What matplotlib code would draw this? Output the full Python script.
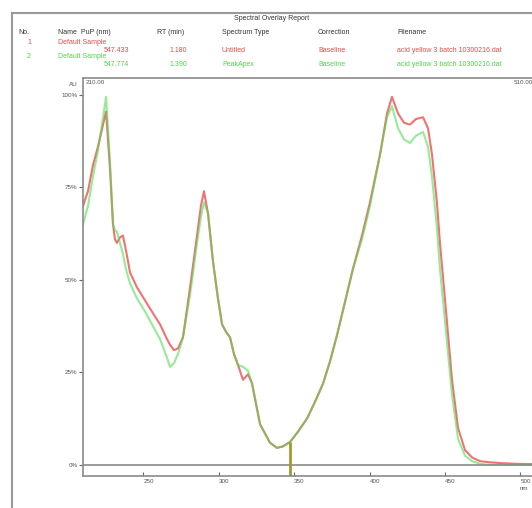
import matplotlib.pyplot as plt
from matplotlib.lines import Line2D

wavelength = [210.0, 213.3, 216.6, 219.9, 223.3, 225.3, 227.9, 229.9, 231.2, 232.5,
              234.5, 236.5, 238.5, 241.2, 245.8, 251.1, 256.4, 261.1, 265.7, 267.7,
              270.3, 273.0, 276.3, 281.0, 285.6, 288.2, 290.2, 292.9, 296.2, 299.5,
              302.2, 304.8, 307.5, 310.1, 312.8, 316.1, 319.4, 322.1, 327.4, 334.0,
              338.6, 342.6, 347.3, 352.6, 358.5, 363.8, 369.2, 373.8, 378.4, 383.7,
              389.0, 395.0, 400.3, 407.0, 411.6, 414.9, 418.9, 422.9, 426.8, 430.8,
              435.5, 438.8, 441.4, 444.7, 446.7, 450.0, 454.7, 458.7, 463.3, 468.0,
              473.3, 479.9, 486.5, 496.5, 510.0]
sample1 = [70, 74, 81, 86, 92, 95.5, 80, 65, 61, 60,
           61.5, 62, 58, 52, 48, 44.5, 41, 38, 34, 32.5,
           31, 31.5, 34.5, 48, 62, 70, 74, 68, 55, 45,
           38, 36, 34.5, 30, 27, 23, 24.5, 22, 11, 6,
           4.6, 5, 6.2, 9, 12.5, 17, 22, 28, 35, 44,
           53, 62, 71, 84, 95, 99.5, 95, 92.5, 92, 93.5,
           94, 91, 84, 71, 60, 45, 23, 10, 4, 2,
           1, 0.7, 0.5, 0.3, 0.2]
sample2 = [65, 70, 78, 85, 94, 99.5, 82, 65, 63.5, 63,
           60, 57, 53, 49, 45, 41.5, 37.5, 34, 29, 26.5,
           27.5, 30, 34.5, 46, 60, 67, 71, 68, 55, 45,
           38, 36, 34.5, 30, 27, 26.5, 25.5, 22, 11, 6,
           4.6, 5, 6.2, 9, 12.5, 17, 22, 28, 35, 44,
           53, 61, 70, 84, 94, 97, 91, 88, 87, 89,
           90, 86, 78, 64, 53, 39, 19, 7, 2.5, 1,
           0.3, 0, 0, 0, 0]

marker_nm = 347.3
marker_top = 6.2

x_ticks = [250, 300, 350, 400, 450, 500]
y_ticks = [0, 25, 50, 75, 100]
y_labels = ["0%", "25%", "50%", "75%", "100%"]

columns = ["No.", "Name  PuP (nm)", "RT (min)", "Spectrum Type", "Correction", "Filename"]
rows = [
    ["1", "Default Sample", "547.433", "1.180", "Untitled", "Baseline",
     "acid yellow 3 batch 10300216.dat"],
    ["2", "Default Sample", "547.774", "1.390", "PeakApex", "Baseline",
     "acid yellow 3 batch 10300216.dat"],
]
row_colors = ["#e84a4a", "#4cd64c"]

W, H = 532, 508
plt.rcParams["font.family"] = ["Liberation Sans", "DejaVu Sans"]
fig = plt.figure(figsize=(W / 100, H / 100), dpi=100)


def fx(px):
    return px / W


def fy(py):
    return 1 - py / H


# outer report frame
frame = "#9a9a9a"
fig.add_artist(Line2D([fx(12), 1.0], [fy(13), fy(13)], color=frame, lw=1.5))
fig.add_artist(Line2D([fx(12), fx(12)], [fy(13), 0.0], color=frame, lw=1.5))

# header block
fig.text(fx(272), fy(18), "Spectral Overlay Report", fontsize=5, color="#333333",
         ha="center", va="center")
col_x = [18, 58, 157, 222, 318, 397]
for x, name in zip(col_x, columns):
    fig.text(fx(x), fy(33), name, fontsize=5, color="#333333", va="center")

for i, (row, c) in enumerate(zip(rows, row_colors)):
    y1 = 42 + i * 15
    y2 = y1 + 8
    fig.text(fx(27), fy(y1), row[0], fontsize=5, color=c, va="center")
    fig.text(fx(58), fy(y1), row[1], fontsize=5, color=c, va="center")
    fig.text(fx(129), fy(y2), row[2], fontsize=5, color=c, va="center", ha="right")
    fig.text(fx(187), fy(y2), row[3], fontsize=5, color=c, va="center", ha="right")
    fig.text(fx(222), fy(y2), row[4], fontsize=5, color=c, va="center")
    fig.text(fx(318), fy(y2), row[5], fontsize=5, color=c, va="center")
    fig.text(fx(397), fy(y2), row[6], fontsize=5, color=c, va="center")

# plot area: left 83px, top 78px, bottom axis 476px
x_lo, x_hi = 210, 510
y_lo, y_hi = -3.0, 104.6
px_per_nm = 1.508
left, top, bottom = 83, 78, 476
right = left + (x_hi - x_lo) * px_per_nm
ax = fig.add_axes([fx(left), fy(bottom), fx(right - left), (bottom - top) / H])

ax.plot(wavelength, sample1, color="#f07272", lw=1.5)
ax.plot(wavelength, sample2, color="#52dc52", lw=1.5, alpha=0.6)
ax.axhline(0, color="#8a8a8a", lw=1.2)
ax.vlines(marker_nm, y_lo, marker_top, color="#a09a30", lw=2)

ax.set_xlim(x_lo, x_hi)
ax.set_ylim(y_lo, y_hi)
for side in ["left", "top", "bottom", "right"]:
    ax.spines[side].set_color("#8a8a8a")
    ax.spines[side].set_linewidth(1.2)

ax.set_xticks(x_ticks)
ax.set_xticklabels([str(t) for t in x_ticks])
ax.set_yticks(y_ticks)
ax.set_yticklabels(y_labels)
ax.tick_params(axis="x", direction="in", length=3, width=0.8, color="#666666",
               labelsize=4.5, labelcolor="#555555", pad=2)
ax.tick_params(axis="y", direction="out", length=3, width=0.8, color="#666666",
               labelsize=4.5, labelcolor="#555555", pad=1)
for lab in ax.get_xticklabels():
    lab.set_ha("left")

ax.text(0.006, 0.995, "210.00", transform=ax.transAxes, fontsize=4.5,
        color="#555555", ha="left", va="top")
ax.text(0.995, 0.995, "510.00", transform=ax.transAxes, fontsize=4.5,
        color="#555555", ha="right", va="top")
fig.text(fx(78), fy(84), "AU", fontsize=4.5, color="#555555", ha="right", va="center")
fig.text(fx(524), fy(489), "nm", fontsize=4.5, color="#555555", ha="center", va="center")

fig.savefig("out.png", dpi=100)
